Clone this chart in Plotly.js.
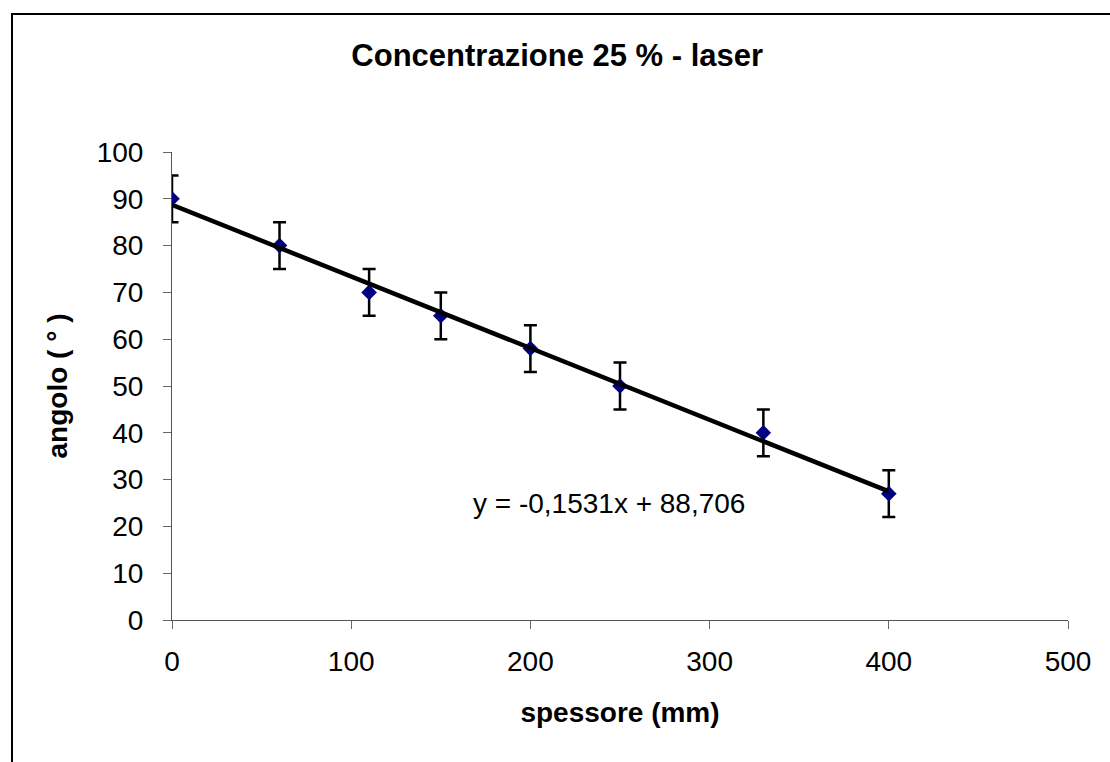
<!DOCTYPE html>
<html>
<head>
<meta charset="utf-8">
<script src="https://cdn.plot.ly/plotly-3.0.1.min.js"></script>
<style>html,body{margin:0;padding:0;background:#fff;}#chart{width:1110px;height:762px;}</style>
</head>
<body>
<div id="chart"></div>
<script>
var spessore = [0, 60, 110, 150, 200, 250, 330, 400];
var angolo = [90, 80, 70, 65, 58, 50, 40, 27];
var errore = [5, 5, 5, 5, 5, 5, 5, 5];
var xTicks = [0, 100, 200, 300, 400, 500];
var yTicks = [0, 10, 20, 30, 40, 50, 60, 70, 80, 90, 100];

// least-squares trendline from the data
var n = spessore.length, mx = 0, my = 0;
for (var i = 0; i < n; i++) { mx += spessore[i]; my += angolo[i]; }
mx /= n; my /= n;
var sxy = 0, sxx = 0;
for (var i = 0; i < n; i++) { sxy += (spessore[i]-mx)*(angolo[i]-my); sxx += (spessore[i]-mx)*(spessore[i]-mx); }
var slope = sxy / sxx, intercept = my - slope * mx;
var xFit = [Math.min.apply(null, spessore), Math.max.apply(null, spessore)];
var yFit = xFit.map(function (x) { return slope * x + intercept; });
function fmt(v, d) { return v.toFixed(d).replace('.', ','); }
var eqText = 'y = ' + fmt(slope, 4) + 'x + ' + fmt(intercept, 3);

var font = 'Liberation Sans, Arial, sans-serif';

var traces = [
  {
    x: spessore, y: angolo, type: 'scatter', mode: 'markers',
    marker: {symbol: 'diamond', size: 12, color: '#000080'},
    error_y: {type: 'data', array: errore, visible: true, color: '#000', thickness: 2.5, width: 6.5},
    showlegend: false, hoverinfo: 'skip'
  },
  {
    x: xFit, y: yFit, type: 'scatter', mode: 'lines',
    line: {color: '#000', width: 4.5}, showlegend: false, hoverinfo: 'skip'
  }
];

var layout = {
  width: 1110, height: 762,
  margin: {l: 172, r: 42, t: 152, b: 142},
  paper_bgcolor: '#fff', plot_bgcolor: '#fff',
  title: {text: '<b>Concentrazione 25 % - laser</b>', font: {family: font, size: 31, color: '#000'}, x: 0.502, xanchor: 'center', y: 0.928, yanchor: 'middle'},
  xaxis: {
    range: [0, 500], tickvals: xTicks, ticktext: xTicks.map(String),
    showgrid: false, zeroline: false, showline: true, linecolor: '#555', linewidth: 1,
    ticks: 'outside', ticklen: 8, tickcolor: '#666', tickwidth: 1,
    ticklabelstandoff: 8,
    tickfont: {family: font, size: 28, color: '#000'},
    title: {text: '<b>spessore (mm)</b>', font: {family: font, size: 28, color: '#000'}, standoff: 26}
  },
  yaxis: {
    range: [0, 100], tickvals: yTicks, ticktext: yTicks.map(String),
    showgrid: false, zeroline: false, showline: true, linecolor: '#555', linewidth: 1,
    ticks: 'outside', ticklen: 8, tickcolor: '#666', tickwidth: 1,
    ticklabelstandoff: 14,
    tickfont: {family: font, size: 28, color: '#000'},
    title: {text: '<b>angolo ( ° )</b>', font: {family: font, size: 28, color: '#000'}, standoff: 20}
  },
  annotations: [{
    x: 243.6, y: 25.0, xref: 'x', yref: 'y', text: eqText, showarrow: false,
    font: {family: font, size: 28, color: '#000'}, xanchor: 'center', yanchor: 'middle'
  }],
  shapes: [{
    type: 'rect', xref: 'paper', yref: 'paper',
    x0: (12-172)/896, x1: 1.5, y0: -0.5, y1: (620-14)/468,
    line: {color: '#000', width: 2}, fillcolor: 'rgba(0,0,0,0)', layer: 'below'
  }]
};

Plotly.newPlot('chart', traces, layout, {displayModeBar: false, staticPlot: true});
</script>
</body>
</html>
